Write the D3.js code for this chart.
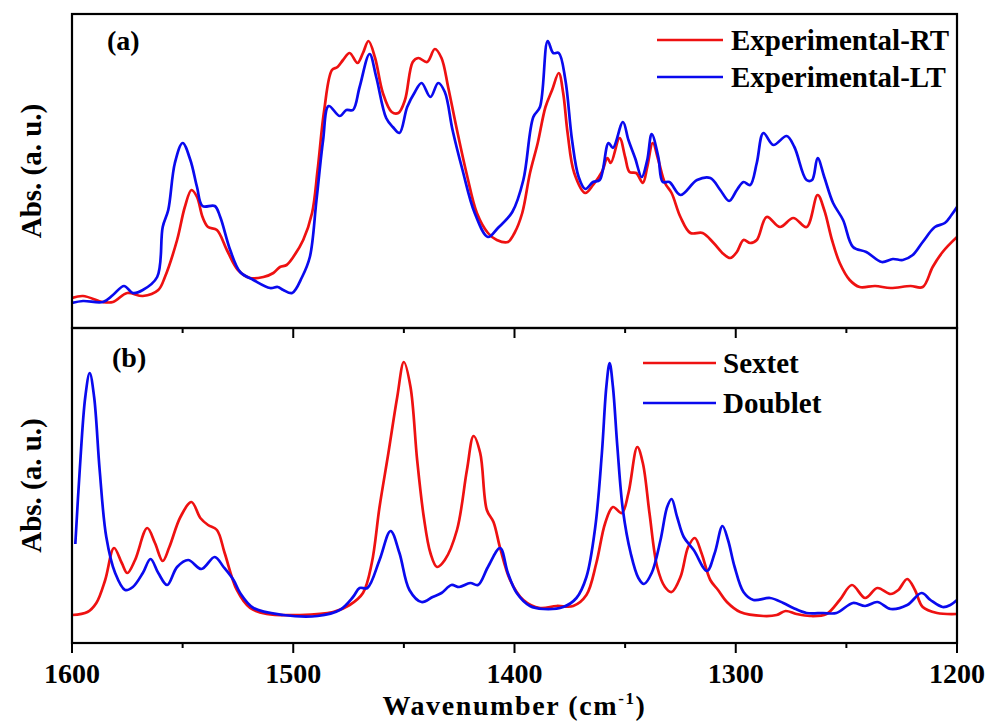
<!DOCTYPE html>
<html>
<head>
<meta charset="utf-8">
<script src="https://cdn.jsdelivr.net/npm/d3@7"></script>
<style>
  html, body { margin: 0; padding: 0; background: #fff; }
  svg { display: block; }
  text { font-family: "Liberation Serif", "DejaVu Serif", "Times New Roman", serif; font-weight: bold; fill: #000; }
</style>
</head>
<body>
<svg id="chart" width="990" height="724" font-family="Liberation Serif, DejaVu Serif, serif"></svg>
<script>
// ---------- data: [wavenumber (cm-1), absorbance (a.u.)] ----------
const expRT = [
  [1600,30],[1595,32],[1586,26],[1581.5,26],[1575,35],[1568,32],[1561,38],[1558,51],[1552.5,88],[1549,121],
  [1546,138],[1543.5,131],[1541,111],[1538.5,101],[1534.5,98],[1530,78],[1525,58],[1519.5,50],[1513.5,51],[1509,55],
  [1506,61],[1503,63],[1500,71],[1495.5,88],[1491.5,115],[1489,158],[1486,218],[1482.5,258],[1480,261],[1477.5,268],
  [1474.5,275],[1471,265],[1468.5,275],[1466,287],[1463,270],[1459.5,235],[1455.5,216],[1452.5,215],[1449.5,228],[1446,266],
  [1443.5,270],[1439.5,266],[1436,279],[1433,270],[1430,241],[1426,198],[1421.5,153],[1417,115],[1412,95],[1408,88],
  [1403,86],[1400,95],[1396.5,115],[1393,155],[1389.5,185],[1386,221],[1383,238],[1380,255],[1378,235],[1376,195],
  [1373,155],[1368,135],[1364.5,143],[1360.5,156],[1358,170],[1356.5,165],[1352.5,190],[1350,171],[1348,156],[1345,155],
  [1342,145],[1340,161],[1337.5,185],[1335,168],[1332,145],[1329,135],[1325,111],[1320.5,95],[1315,95],[1310,85],
  [1305.5,74],[1302.5,70],[1299.5,76],[1296.5,88],[1293.5,85],[1290.5,88],[1286,111],[1280,101],[1274,110],[1268,101],
  [1263,133],[1260,118],[1256.5,88],[1253,65],[1248.5,48],[1244,41],[1237,42],[1230,40],[1221,42],[1215.5,41],
  [1211,61],[1206.5,76],[1200,91]
];
const expLT = [
  [1600,25],[1595,27],[1586,26],[1581.5,33],[1576.5,42],[1572.5,35],[1568,38],[1561.5,51],[1559,101],[1556.5,118],
  [1553.5,165],[1550,185],[1546.5,168],[1543.5,141],[1541,122],[1535.5,122],[1533,111],[1528.5,78],[1524,56],[1518,48],
  [1510.5,40],[1507,41],[1504.5,38],[1500.5,35],[1496,51],[1492.5,71],[1489.5,128],[1486.5,188],[1484,222],[1479,212],
  [1476,218],[1473,218],[1470,241],[1465.5,274],[1462.5,251],[1458,210],[1455,201],[1452,195],[1448.5,221],[1445,236],
  [1442,245],[1438,231],[1434.5,245],[1431.5,236],[1428,198],[1423.5,158],[1418,115],[1412,91],[1407.5,100],[1401,116],
  [1396,148],[1391.5,211],[1388.5,221],[1385,287],[1382.5,275],[1380,275],[1377,248],[1374,188],[1371,151],[1368,139],
  [1364.5,146],[1361.5,148],[1357.5,185],[1355.5,180],[1351,206],[1348.5,188],[1345.5,170],[1342.5,151],[1340,168],[1338,194],
  [1335,171],[1333,146],[1330,146],[1325,133],[1317.5,148],[1311.5,150],[1307,138],[1303,127],[1299.5,138],[1296.5,146],
  [1293.5,143],[1290.5,165],[1287.5,195],[1283,183],[1277,192],[1273.5,181],[1268,148],[1265.5,148],[1263,170],[1260,151],
  [1256,125],[1251.5,108],[1247,81],[1241,76],[1234,66],[1229,69],[1224.5,68],[1220,73],[1215.5,86],[1210,101],
  [1205.5,105],[1202.5,113],[1200,121]
];
const sextet = [
  [1600,28],[1593,31],[1589,40],[1585,63],[1581,95],[1577.5,80],[1575,70],[1571.5,83],[1566,115],[1562.5,100],
  [1559,82],[1556,96],[1551,126],[1546,141],[1542,125],[1538.5,118],[1534.5,113],[1531,90],[1525.5,53],[1519.5,35],
  [1512,29],[1497,28],[1482,31],[1474.5,38],[1468.5,50],[1464.5,80],[1461,136],[1457,190],[1453,246],[1450,281],
  [1447,256],[1444,183],[1441,126],[1438,90],[1435,76],[1431.5,83],[1426,113],[1421.5,173],[1418.5,207],[1415.5,190],
  [1412.5,133],[1409.5,121],[1406.5,95],[1402,63],[1396,43],[1388.5,35],[1381,37],[1373.5,37],[1367.5,48],[1363,80],
  [1359,120],[1355.5,136],[1351.5,130],[1348.5,150],[1344.5,196],[1342,180],[1339,130],[1335.5,76],[1332,56],[1329,51],
  [1325,66],[1321.5,96],[1318.5,105],[1315.5,90],[1311.5,63],[1308,53],[1304,41],[1298,31],[1287.5,27],[1281.5,28],
  [1277.5,32],[1272.5,29],[1266.5,27],[1259,29],[1253,43],[1247.5,58],[1241.5,45],[1236,55],[1230,49],[1226.5,53],
  [1222.5,64],[1219,53],[1215.5,36],[1209,30],[1200,29]
];
const doublet = [
  [1598.5,99],[1596.5,173],[1594,246],[1592,270],[1590,246],[1587.5,173],[1584.5,106],[1580.5,70],[1576,53],[1572.5,56],
  [1568,70],[1564.5,84],[1561,70],[1557,58],[1552.5,76],[1547.5,83],[1541.5,74],[1535.5,86],[1531.5,76],[1527,63],
  [1524,50],[1518,35],[1504.5,28],[1489,27],[1479,33],[1473,46],[1470,55],[1466.5,55],[1461,83],[1456,112],
  [1452,90],[1447.5,53],[1442,41],[1437,46],[1433,50],[1428.5,58],[1425,56],[1420,60],[1416.5,58],[1412,76],
  [1406.5,95],[1403,70],[1399,50],[1393,37],[1387,34],[1378,36],[1372,45],[1367.5,66],[1363.5,116],[1360.5,190],
  [1358.5,256],[1357,280],[1355.5,256],[1353.5,196],[1351,133],[1347.5,90],[1344,65],[1341.5,59],[1338,70],[1334,103],
  [1331,136],[1329,144],[1326.5,126],[1323.5,106],[1319,93],[1313,72],[1309.5,90],[1306,117],[1303.5,103],[1300.5,76],
  [1296.5,51],[1292,43],[1284.5,45],[1278.5,40],[1274,35],[1268,30],[1260.5,30],[1254.5,30],[1247,40],[1241.5,37],
  [1236,41],[1230,34],[1222.5,38],[1216,50],[1212,43],[1206.5,36],[1203,38],[1200,43]
];
const xTicksMajor = [1600, 1500, 1400, 1300, 1200];
const xTicksMinor = [1550, 1450, 1350, 1250];
const legendTop = ["Experimental-RT", "Experimental-LT"];
const legendBottom = ["Sextet", "Doublet"];
const panelLabels = ["(a)", "(b)"];
const yLabel = "Abs. (a. u.)";
const colors = ["#EE1111", "#0A0AEE"];

// ---------- layout ----------
const svg = d3.select("#chart");
const L = 72, R = 957, T = 14, MID = 328, B = 643;

const x = d3.scaleLinear().domain([1600, 1200]).range([L, R]);
const yTop = d3.scaleLinear().domain([0, 314]).range([MID, T]);
const yBot = d3.scaleLinear().domain([0, 315]).range([B, MID]);

const defs = svg.append("defs");
defs.append("clipPath").attr("id", "clipTop").append("rect")
  .attr("x", L).attr("y", T).attr("width", R - L).attr("height", MID - T);
defs.append("clipPath").attr("id", "clipBot").append("rect")
  .attr("x", L).attr("y", MID).attr("width", R - L).attr("height", B - MID);

function drawLine(data, yScale, color, clip) {
  const line = d3.line()
    .x(d => x(d[0])).y(d => yScale(d[1]))
    .curve(d3.curveCatmullRom.alpha(0.5));
  svg.append("path").datum(data)
    .attr("clip-path", `url(#${clip})`)
    .attr("fill", "none").attr("stroke", color)
    .attr("stroke-width", 2.7).attr("stroke-linejoin", "round")
    .attr("d", line);
}

drawLine(expRT, yTop, colors[0], "clipTop");
drawLine(expLT, yTop, colors[1], "clipTop");
drawLine(sextet, yBot, colors[0], "clipBot");
drawLine(doublet, yBot, colors[1], "clipBot");

// ---------- frames ----------
const frame = svg.append("g").attr("fill", "none").attr("stroke", "#000").attr("stroke-width", 2.2);
frame.append("rect").attr("x", L).attr("y", T).attr("width", R - L).attr("height", MID - T);
frame.append("rect").attr("x", L).attr("y", MID).attr("width", R - L).attr("height", B - MID);

// ---------- ticks ----------
const tickG = svg.append("g").attr("stroke", "#000").attr("stroke-width", 2);
tickG.selectAll(".bmaj").data(xTicksMajor).join("line")
  .attr("x1", d => x(d)).attr("x2", d => x(d)).attr("y1", B).attr("y2", B + 10);
tickG.selectAll(".bmin").data(xTicksMinor).join("line")
  .attr("x1", d => x(d)).attr("x2", d => x(d)).attr("y1", B).attr("y2", B + 5);
tickG.selectAll(".mmaj").data(xTicksMajor).join("line")
  .attr("x1", d => x(d)).attr("x2", d => x(d)).attr("y1", MID).attr("y2", MID + 10);
tickG.selectAll(".mmin").data(xTicksMinor).join("line")
  .attr("x1", d => x(d)).attr("x2", d => x(d)).attr("y1", MID).attr("y2", MID + 5);

// tick labels
svg.append("g").selectAll("text").data(xTicksMajor).join("text")
  .attr("x", d => x(d)).attr("y", 683)
  .attr("text-anchor", "middle").attr("font-size", 28)
  .text(d => d3.format("d")(d));

// x title
const xt = svg.append("text").attr("x", (L + R) / 2).attr("y", 715)
  .attr("text-anchor", "middle").attr("font-size", 28).attr("letter-spacing", 1.6);
xt.append("tspan").text("Wavenumber (cm");
xt.append("tspan").attr("font-size", 17).attr("dy", -11).text("-1");
xt.append("tspan").attr("dy", 11).text(")");

// y titles
[[yLabel, (T + MID) / 2], [yLabel, (MID + B) / 2]].forEach(([t, cy]) => {
  svg.append("text")
    .attr("transform", `translate(41,${cy}) rotate(-90)`)
    .attr("text-anchor", "middle").attr("font-size", 29)
    .text(t);
});

// panel labels
svg.append("text").attr("x", 107).attr("y", 50).attr("font-size", 28).text(panelLabels[0]);
svg.append("text").attr("x", 112).attr("y", 367).attr("font-size", 28).text(panelLabels[1]);

// legends
function legend(names, x1, x2, tx, ys) {
  names.forEach((n, i) => {
    svg.append("line").attr("x1", x1).attr("x2", x2).attr("y1", ys[i]).attr("y2", ys[i])
      .attr("stroke", colors[i]).attr("stroke-width", 2.7);
    svg.append("text").attr("x", tx).attr("y", ys[i] + 10).attr("font-size", 29).text(n);
  });
}
legend(legendTop, 657, 723, 731, [40, 77]);
legend(legendBottom, 643, 716, 723, [363, 403]);
</script>
</body>
</html>
